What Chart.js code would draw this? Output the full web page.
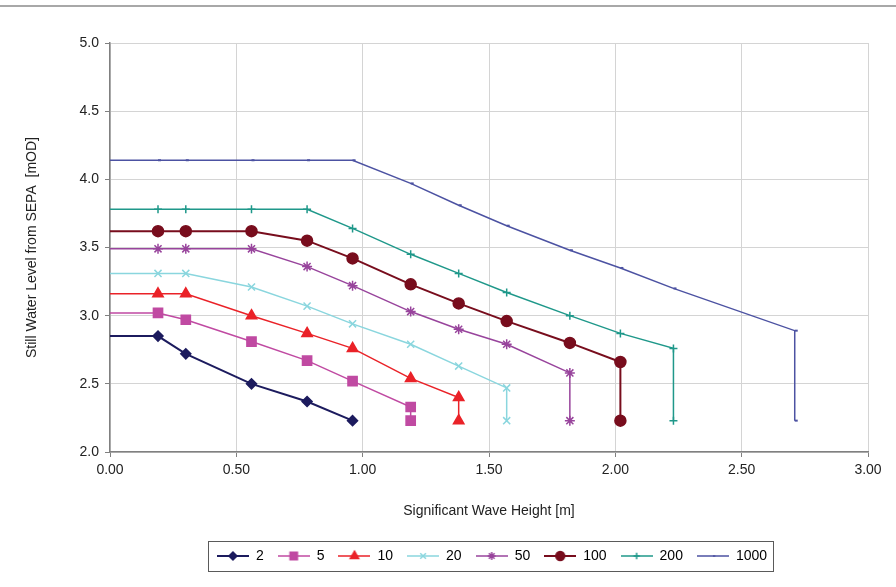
<!DOCTYPE html>
<html>
<head>
<meta charset="utf-8">
<script src="https://cdn.jsdelivr.net/npm/chart.js"></script>
<style>
  html, body { margin: 0; padding: 0; background: #fff; }
  #wrap { position: relative; width: 896px; height: 587px; }
  #frame { position: absolute; left: 0; top: 5px; width: 896px; height: 0; border-top: 2px solid #a8a8a8; }
</style>
</head>
<body>
<div id="wrap">
  <div id="frame"></div>
  <canvas id="chart" width="896" height="587"></canvas>
</div>
<script>
'use strict';

// return periods (years) used as legend labels
const periods = ['2', '5', '10', '20', '50', '100', '200', '1000'];

// significant wave height [m] for each curve
const hs2    = [0, 0.19, 0.30, 0.56, 0.78, 0.96];
const hs5    = [0, 0.19, 0.30, 0.56, 0.78, 0.96, 1.19, 1.19];
const hs10   = [0, 0.19, 0.30, 0.56, 0.78, 0.96, 1.19, 1.38, 1.38];
const hs20   = [0, 0.19, 0.30, 0.56, 0.78, 0.96, 1.19, 1.38, 1.57, 1.57];
const hs50   = [0, 0.19, 0.30, 0.56, 0.78, 0.96, 1.19, 1.38, 1.57, 1.82, 1.82];
const hs100  = [0, 0.19, 0.30, 0.56, 0.78, 0.96, 1.19, 1.38, 1.57, 1.82, 2.02, 2.02];
const hs200  = [0, 0.19, 0.30, 0.56, 0.78, 0.96, 1.19, 1.38, 1.57, 1.82, 2.02, 2.23, 2.23];
const hs1000 = [0, 0.19, 0.30, 0.56, 0.78, 0.96, 1.19, 1.38, 1.57, 1.82, 2.02, 2.23, 2.71, 2.71];

// still water level [mOD] for each curve
const swl2    = [2.85, 2.85, 2.72, 2.50, 2.37, 2.23];
const swl5    = [3.02, 3.02, 2.97, 2.81, 2.67, 2.52, 2.33, 2.23];
const swl10   = [3.16, 3.16, 3.16, 3.00, 2.87, 2.76, 2.54, 2.40, 2.23];
const swl20   = [3.31, 3.31, 3.31, 3.21, 3.07, 2.94, 2.79, 2.63, 2.47, 2.23];
const swl50   = [3.49, 3.49, 3.49, 3.49, 3.36, 3.22, 3.03, 2.90, 2.79, 2.58, 2.23];
const swl100  = [3.62, 3.62, 3.62, 3.62, 3.55, 3.42, 3.23, 3.09, 2.96, 2.80, 2.66, 2.23];
const swl200  = [3.78, 3.78, 3.78, 3.78, 3.78, 3.64, 3.45, 3.31, 3.17, 3.00, 2.87, 2.76, 2.23];
const swl1000 = [4.14, 4.14, 4.14, 4.14, 4.14, 4.14, 3.97, 3.81, 3.66, 3.48, 3.35, 3.20, 2.89, 2.23];

const xTicks = [0, 0.5, 1, 1.5, 2, 2.5, 3];
const yTicks = [2, 2.5, 3, 3.5, 4, 4.5, 5];

const FONT = "'Liberation Sans', Arial, sans-serif";
const LEGEND_PAD = 14;

const seriesX = [hs2, hs5, hs10, hs20, hs50, hs100, hs200, hs1000];
const seriesY = [swl2, swl5, swl10, swl20, swl50, swl100, swl200, swl1000];

// marker look per curve
const styles = [
  { color: '#1c1b5e', point: 'rectRot',  r: 5,   lw: 2 },
  { color: '#c04aa2', point: 'rect',     r: 6.5, lw: 1.5 },
  { color: '#ea2228', point: 'triangle', r: 6,   lw: 1.5 },
  { color: '#8ad6de', point: 'crossRot', r: 5,   lw: 1.5 },
  { color: '#98449c', point: 'star',     r: 5,   lw: 1.5 },
  { color: '#780d1d', point: 'circle',   r: 5.5, lw: 2 },
  { color: '#1f988a', point: 'cross',    r: 4,   lw: 1.5 },
  { color: '#4c52a2', point: 'dash',     r: 3,   lw: 1.5 }
];

// small canvas with line + marker, used as legend symbol
function legendSymbol(s) {
  const c = document.createElement('canvas');
  c.width = 32; c.height = 14;
  const g = c.getContext('2d');
  g.strokeStyle = s.color;
  g.fillStyle = s.color;
  g.lineWidth = s.lw;
  g.beginPath();
  g.moveTo(0, 7);
  g.lineTo(32, 7);
  g.stroke();
  g.lineWidth = 1.5;
  Chart.helpers.drawPoint(g, { pointStyle: s.point, radius: s.r * 0.8, rotation: 0, borderWidth: 1.5 }, 16, 7);
  return c;
}

const datasets = periods.map((p, i) => {
  const s = styles[i];
  return {
    label: p,
    data: seriesX[i].map((x, j) => ({ x: x, y: seriesY[i][j] })),
    borderColor: s.color,
    backgroundColor: s.color,
    borderWidth: s.lw,
    pointStyle: s.point,
    pointRadius: ctx => ctx.dataIndex === 0 ? 0 : s.r,
    pointBorderWidth: s.point === 'dash' ? 2 : 1.5,
    pointBorderColor: s.color,
    pointBackgroundColor: s.color,
    tension: 0,
    fill: false,
    symbol: legendSymbol(s)
  };
});

// centre the legend under the plot area and put a thin box round it
const legendBox = {
  id: 'legendBox',
  afterUpdate(chart) {
    const l = chart.legend, a = chart.chartArea;
    const dx = (a.left + a.right) / 2 - (l.left + l.right) / 2 + 3;
    l.left += dx; l.right += dx;
    (l.legendHitBoxes || []).forEach(b => { b.left += dx; });
  },
  afterDraw(chart) {
    const l = chart.legend;
    const boxes = l.legendHitBoxes;
    if (!boxes || !boxes.length) return;
    const x0 = Math.min(...boxes.map(b => b.left));
    const x1 = Math.max(...boxes.map(b => b.left + b.width));
    const h = boxes[0].height;
    const y0 = l.top + LEGEND_PAD;
    const ctx = chart.ctx;
    ctx.save();
    ctx.strokeStyle = '#5a5a5a';
    ctx.lineWidth = 1;
    ctx.strokeRect(Math.round(x0 - 9) + 0.5, Math.round(y0 - 8) + 0.5, Math.round(x1 - x0 + 15), Math.round(h + 16));
    ctx.restore();
  }
};

const ctx = document.getElementById('chart').getContext('2d');
new Chart(ctx, {
  type: 'line',
  data: { datasets: datasets },
  plugins: [legendBox],
  options: {
    responsive: false,
    animation: false,
    layout: { padding: { top: 43, right: 28, left: 0, bottom: 14 } },
    plugins: {
      tooltip: { enabled: false },
      legend: {
        position: 'bottom',
        labels: {
          usePointStyle: true,
          pointStyleWidth: 32,
          boxHeight: 14,
          padding: LEGEND_PAD,
          color: '#222',
          font: { family: FONT, size: 14 },
          generateLabels(chart) {
            return chart.data.datasets.map((d, i) => ({
              text: d.label,
              pointStyle: d.symbol,
              fillStyle: d.borderColor,
              strokeStyle: d.borderColor,
              lineWidth: 0,
              hidden: false,
              datasetIndex: i
            }));
          }
        }
      }
    },
    scales: {
      x: {
        type: 'linear',
        min: 0, max: 3,
        afterBuildTicks: axis => { axis.ticks = xTicks.map(v => ({ value: v })); },
        afterFit: axis => { axis.height = 83; },
        grid: { color: '#d4d4d4', tickColor: '#808080', tickLength: 5, drawTicks: true },
        border: { color: '#808080', width: 1.5 },
        ticks: {
          color: '#222', padding: 5,
          font: { family: FONT, size: 14 },
          callback: v => Number(v).toFixed(2)
        },
        title: {
          display: true, text: 'Significant Wave Height [m]',
          color: '#222', font: { family: FONT, size: 14 },
          padding: { top: 4, bottom: 15 }
        }
      },
      y: {
        type: 'linear',
        min: 2, max: 5,
        afterBuildTicks: axis => { axis.ticks = yTicks.map(v => ({ value: v })); },
        afterFit: axis => { axis.width = 110; },
        grid: { color: '#d4d4d4', tickColor: '#808080', tickLength: 5 },
        border: { color: '#808080', width: 1.5 },
        ticks: {
          color: '#222', padding: 6,
          font: { family: FONT, size: 14 },
          callback: v => Number(v).toFixed(1)
        },
        title: {
          display: true, text: 'Still Water Level from SEPA  [mOD]',
          color: '#222', font: { family: FONT, size: 14 },
          padding: { top: 24, bottom: 0 }
        }
      }
    }
  }
});
</script>
</body>
</html>
